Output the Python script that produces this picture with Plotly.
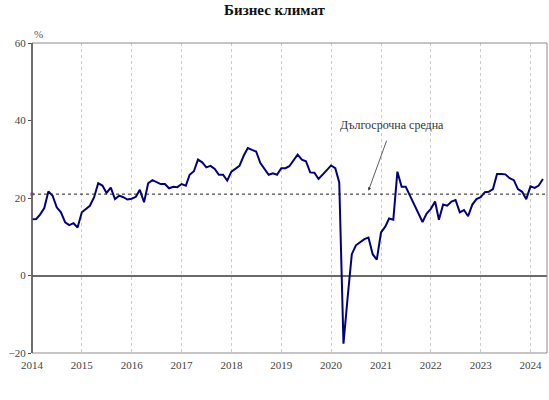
import plotly.graph_objects as go
import pandas as pd

# business climate, monthly, Jan 2014 - Apr 2024
y2014 = [14.5, 14.6, 15.7, 17.4, 21.7, 20.6, 17.6, 16.3, 13.7, 13.0, 13.5, 12.4]
y2015 = [16.3, 17.3, 18.0, 20.2, 23.8, 23.2, 21.3, 22.7, 19.7, 20.6, 20.2, 19.6]
y2016 = [19.8, 20.3, 22.1, 18.9, 23.8, 24.6, 24.0, 23.6, 23.6, 22.5, 22.9, 22.8]
y2017 = [23.6, 23.2, 26.0, 26.9, 29.9, 29.2, 27.9, 28.3, 27.5, 26.0, 26.0, 24.5]
y2018 = [26.8, 27.5, 28.3, 30.9, 32.9, 32.4, 32.0, 29.0, 27.5, 26.0, 26.4, 26.0]
y2019 = [27.7, 27.7, 28.2, 29.8, 31.2, 29.9, 29.5, 26.6, 26.5, 24.9, 26.2, 27.2]
y2020 = [28.4, 27.7, 24.0, -17.6, -5.8, 5.5, 7.8, 8.5, 9.4, 9.8, 5.5, 4.1]
y2021 = [11.1, 12.6, 14.7, 14.4, 26.8, 22.9, 22.9, 20.6, 18.3, 16.0, 13.8, 16.0]
y2022 = [17.2, 19.1, 14.4, 18.3, 18.0, 19.1, 19.5, 16.3, 16.9, 15.3, 18.3, 19.7]
y2023 = [20.2, 21.5, 21.6, 22.3, 26.2, 26.2, 26.1, 25.1, 24.6, 22.3, 21.6, 19.7]
y2024 = [23.0, 22.6, 23.2, 24.9]

values = y2014 + y2015 + y2016 + y2017 + y2018 + y2019 + y2020 + y2021 + y2022 + y2023 + y2024
months = pd.date_range("2014-01-01", periods=len(values), freq="MS")
long_term_avg = 21.0

serif = "Liberation Serif"

fig = go.Figure()
fig.add_trace(go.Scatter(x=months, y=values, mode="lines",
                         line=dict(color="#000080", width=2), showlegend=False))
# little magenta mark at the start of the average line
fig.add_trace(go.Scatter(x=[months[0]], y=[long_term_avg], mode="markers",
                         marker=dict(color="#e000e0", size=3, symbol="square"),
                         showlegend=False, cliponaxis=False))

fig.add_shape(type="line", xref="x domain", yref="y", x0=0, x1=1,
              y0=long_term_avg, y1=long_term_avg,
              line=dict(color="#222222", width=1, dash="dot"))
fig.add_shape(type="rect", xref="x domain", yref="y domain", x0=0, x1=1, y0=0, y1=1,
              line=dict(color="#8c8c8c", width=1))
fig.add_shape(type="line", xref="x domain", yref="y domain", x0=0, x1=0, y0=0, y1=1,
              line=dict(color="#505050", width=1.5))

fig.add_annotation(x="2020-10-01", y=21.9, text="Дългосрочна средна",
                   showarrow=True, arrowhead=2, arrowsize=0.8, arrowwidth=0.8,
                   arrowcolor="#333333", ax=24, ay=-66, startstandoff=8,
                   font=dict(family=serif, size=12, color="#333333"))
fig.add_annotation(x=0, y=1, xref="paper", yref="paper", text="%", showarrow=False,
                   xanchor="left", yanchor="bottom", yshift=1, xshift=0,
                   font=dict(family=serif, size=11, color="#555555"))

fig.update_layout(
    title=dict(text="<b>Бизнес климат</b>", x=0.5, y=0.99, yanchor="top",
               font=dict(family=serif, size=15, color="#111111")),
    width=549, height=400,
    margin=dict(l=32, r=2, t=43, b=47),
    paper_bgcolor="white", plot_bgcolor="white",
    font=dict(family=serif, size=11, color="#444444"),
)
fig.update_xaxes(type="date", range=["2014-01-01", "2024-05-01"],
                 dtick="M12", tick0="2014-01-01", tickformat="%Y",
                 showgrid=True, gridcolor="#cccccc", griddash="dot", gridwidth=1,
                 showline=False, ticks="", ticklabelstandoff=4)
fig.update_yaxes(range=[-20, 60], dtick=20, showgrid=False,
                 zeroline=True, zerolinecolor="#6a6a6a", zerolinewidth=1.5,
                 showline=False, ticks="outside", ticklen=3, tickcolor="#505050")

fig.write_html("out.html", config={"displayModeBar": False},
               post_script="document.body.style.margin='0';")
